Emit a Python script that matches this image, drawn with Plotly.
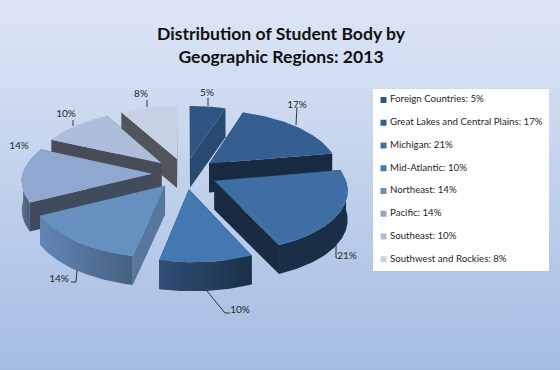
import math
import plotly.graph_objects as go

W, H = 560, 370
TITLE = "Distribution of Student Body by<br>Geographic Regions: 2013"
regions = ["Foreign Countries", "Great Lakes and Central Plains", "Michigan", "Mid-Atlantic",
           "Northeast", "Pacific", "Southeast", "Southwest and Rockies"]
shares = [5, 17, 21, 10, 14, 14, 10, 8]

top_colors = ["#2F5682", "#355F90", "#3E6EA3", "#4478B1", "#6690C0", "#90A8CF", "#AEBEDA", "#C8D2E5"]
cut_colors = ["#284A70", "#182B42", "#182B42", "#1B3048", "#56779E", "#414B5E", "#484C58", "#53555C"]
wall_left = ["#284A70", "#182B42", "#1A2E48", "#2F4F76", "#6186B5", "#5E7394", "#5A6A85", "#53555C"]
wall_right = ["#284A70", "#182B42", "#1A2E48", "#1B3048", "#46607F", "#4A5A75", "#484C58", "#53555C"]

# projection of the tilted, exploded pie
CX, CY, AX, BY, PERSP, DEPTH, EXPLODE, SKEW = 185, 173.5, 130, 61.5, 0.108, 29, 0.25, 3


def project(px, py, drop=False):
    s = 1 / (1 + PERSP * py)
    return (CX + AX * px * s + SKEW * max(-py, 0),
            CY - BY * py * s + (DEPTH if drop else 0))


def ring(a, ox, oy, drop=False):
    r = math.radians(a)
    return project(ox + math.sin(r), oy + math.cos(r), drop)


total = sum(shares)
slices = []
acc = 0
for i, v in enumerate(shares):
    a0 = acc / total * 360
    acc += v
    a1 = acc / total * 360
    m = math.radians((a0 + a1) / 2)
    slices.append((i, a0, a1, EXPLODE * math.sin(m), EXPLODE * math.cos(m), math.cos(m)))

fig = go.Figure()


def poly(pts, color=None, grad=None):
    xs = [p[0] for p in pts] + [pts[0][0]]
    ys = [p[1] for p in pts] + [pts[0][1]]
    kw = dict(fillgradient=grad) if grad else dict(fillcolor=color)
    fig.add_trace(go.Scatter(x=xs, y=ys, mode="lines", fill="toself", line=dict(width=0),
                             hoverinfo="skip", showlegend=False, **kw))


# background
poly([(0, 0), (W, 0), (W, H), (0, H)],
     grad=dict(type="vertical", colorscale=[[0, "#A5BCE3"], [1, "#DDE6F5"]]))

# slices, farthest first
for i, a0, a1, ox, oy, _ in sorted(slices, key=lambda t: -t[5]):
    apex, apex_d = project(ox, oy), project(ox, oy, True)
    for a, col in ((a0, cut_colors[i]), (a1, cut_colors[i])):
        poly([apex, ring(a, ox, oy), ring(a, ox, oy, True), apex_d], col)
    lo, hi = max(a0, 90), min(a1, 272)
    if hi > lo:
        n = max(int(hi - lo), 2)
        angs = [lo + (hi - lo) * k / n for k in range(n + 1)]
        pts = [ring(a, ox, oy) for a in angs] + [ring(a, ox, oy, True) for a in reversed(angs)]
        poly(pts, grad=dict(type="horizontal",
                            colorscale=[[0, wall_left[i]], [1, wall_right[i]]]))
    n = max(int(a1 - a0), 2)
    poly([apex] + [ring(a0 + (a1 - a0) * k / n, ox, oy) for k in range(n + 1)], top_colors[i])

# leader lines and data labels
label_xy = [(207, 93), (297, 105), (347, 256), (240, 310), (59, 279), (19, 146), (66, 114), (141, 94)]
leaders = [[(208, 98), (208, 106)], [(297, 107), (296, 125)], [(336, 238), (336, 258), (337, 258)],
           [(207, 291), (225, 313), (230, 313)], [(77, 270), (76, 282), (71, 282)], [],
           [(73, 120), (73, 126)], [(147, 100), (147, 107)]]
for seg in leaders:
    if seg:
        fig.add_trace(go.Scatter(x=[p[0] for p in seg], y=[p[1] for p in seg], mode="lines",
                                 line=dict(color="#333333", width=1), hoverinfo="skip", showlegend=False))
fig.add_trace(go.Scatter(x=[p[0] for p in label_xy], y=[p[1] for p in label_xy], mode="text",
                         text=[f"{v}%" for v in shares],
                         textfont=dict(family="Lato", size=10, color="#262626"),
                         hoverinfo="skip", showlegend=False))

# legend panel
legend_y = [100 + 22.75 * k for k in range(8)]
poly([(373, 89), (549, 89), (549, 271), (373, 271)], "#FFFFFF")
fig.add_trace(go.Scatter(x=[383.5] * 8, y=legend_y, mode="markers",
                         marker=dict(symbol="square", size=6, color=top_colors),
                         hoverinfo="skip", showlegend=False))
fig.add_trace(go.Scatter(x=[390] * 8, y=legend_y, mode="text",
                         text=[f"{r}: {v}%" for r, v in zip(regions, shares)],
                         textposition="middle right",
                         textfont=dict(family="Lato", size=9.7, color="#262626"),
                         hoverinfo="skip", showlegend=False))

fig.update_layout(
    width=W, height=H, margin=dict(l=0, r=0, t=0, b=0), autosize=False,
    paper_bgcolor="#C0D0EA", plot_bgcolor="rgba(0,0,0,0)",
    xaxis=dict(range=[0, W], visible=False, fixedrange=True),
    yaxis=dict(range=[H, 0], visible=False, fixedrange=True),
    annotations=[dict(text=f"<b>{TITLE}</b>", x=281, y=45, xref="x", yref="y", showarrow=False,
                      font=dict(family="Lato", size=17.6, color="#111111"), align="center")],
)
fig.write_html("out.html", config=dict(displayModeBar=False),
               post_script="document.documentElement.style.margin='0';document.body.style.margin='0';document.body.style.overflow='hidden';")
